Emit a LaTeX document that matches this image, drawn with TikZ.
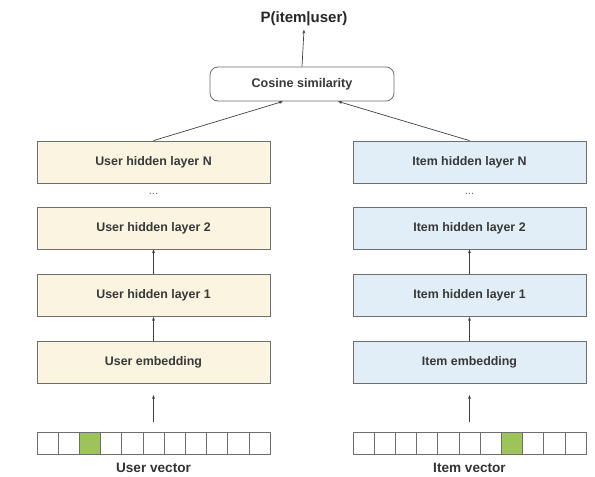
\documentclass[tikz,border=0pt]{standalone}
\usepackage{fontspec}
\setmainfont{Liberation Sans}
\usetikzlibrary{arrows.meta}
\definecolor{usercol}{HTML}{FBF4E1}
\definecolor{itemcol}{HTML}{E1EEF7}
\definecolor{hotcol}{HTML}{9CC45B}
\definecolor{edgecol}{HTML}{6E6E6E}
\begin{document}
\begin{tikzpicture}[x=1pt,y=-1pt,
  layer/.style={draw=edgecol,line width=0.8pt,minimum width=233pt,minimum height=42pt,inner sep=0pt,
    font=\fontsize{12.4}{14}\selectfont\bfseries,text=black!78},
  userlayer/.style={layer,fill=usercol},
  itemlayer/.style={layer,fill=itemcol},
  ellipsis/.style={text=black!60,font=\fontsize{11}{12}\selectfont},
  cell/.style={draw=edgecol,line width=0.7pt,minimum width=21.2pt,minimum height=22pt,inner sep=0pt,fill=white},
  hot/.style={cell,fill=hotcol},
  link/.style={draw=black!75,line width=0.7pt,-{Stealth[length=4pt,width=3pt]}},
  caption/.style={font=\fontsize{13.6}{15}\selectfont\bfseries,text=black!80}
]
\useasboundingbox (0,0) rectangle (595,477);

% similarity head
\node[draw=edgecol,line width=0.8pt,rounded corners=8pt,fill=white,minimum width=184pt,minimum height=34pt,
  font=\fontsize{12.6}{14}\selectfont\bfseries,text=black!78] (cos) at (302,84) {Cosine similarity};
\node[font=\fontsize{15}{17}\selectfont\bfseries,text=black!85] (p) at (304,19) {P(item|user)};

% user tower
\node[userlayer] (uN) at (153.5,162) {User hidden layer N};
\node[ellipsis] (udots) at (153.5,194) {...};
\node[userlayer] (u2) at (153.5,228) {User hidden layer 2};
\node[userlayer] (u1) at (153.5,295.5) {User hidden layer 1};
\node[userlayer] (ue) at (153.5,362) {User embedding};

% item tower
\node[itemlayer] (iN) at (469.5,162) {Item hidden layer N};
\node[ellipsis] (idots) at (469.5,194) {...};
\node[itemlayer] (i2) at (469.5,228) {Item hidden layer 2};
\node[itemlayer] (i1) at (469.5,295.5) {Item hidden layer 1};
\node[itemlayer] (ie) at (469.5,362) {Item embedding};

% one-hot input vectors
\foreach \k in {0,...,10}{
  \ifnum\k=2 \node[hot] (uv\k) at ({37+10.6+21.2*\k},443) {};
  \else \node[cell] (uv\k) at ({37+10.6+21.2*\k},443) {}; \fi
  \ifnum\k=7 \node[hot] (iv\k) at ({353+10.6+21.2*\k},443) {};
  \else \node[cell] (iv\k) at ({353+10.6+21.2*\k},443) {}; \fi
}
\node[caption] (ucap) at (153.5,468) {User vector};
\node[caption] (icap) at (469.5,468) {Item vector};

% connectors
\coordinate (uin) at (153.5,422);
\coordinate (iin) at (469.5,422);
\coordinate (uout) at (153.5,395);
\coordinate (iout) at (469.5,395);
\draw[link] (uin) -- (uout);
\draw[link] (iin) -- (iout);
\draw[link] (ue.north) -- (u1.south);
\draw[link] (u1.north) -- (u2.south);
\draw[link] (ie.north) -- (i1.south);
\draw[link] (i1.north) -- (i2.south);
\draw[link] (uN.north) -- (cos.south -| 283,0);
\draw[link] (iN.north) -- (cos.south -| 338,0);
\draw[link] (cos.north) -- (p.south);
\end{tikzpicture}
\end{document}
